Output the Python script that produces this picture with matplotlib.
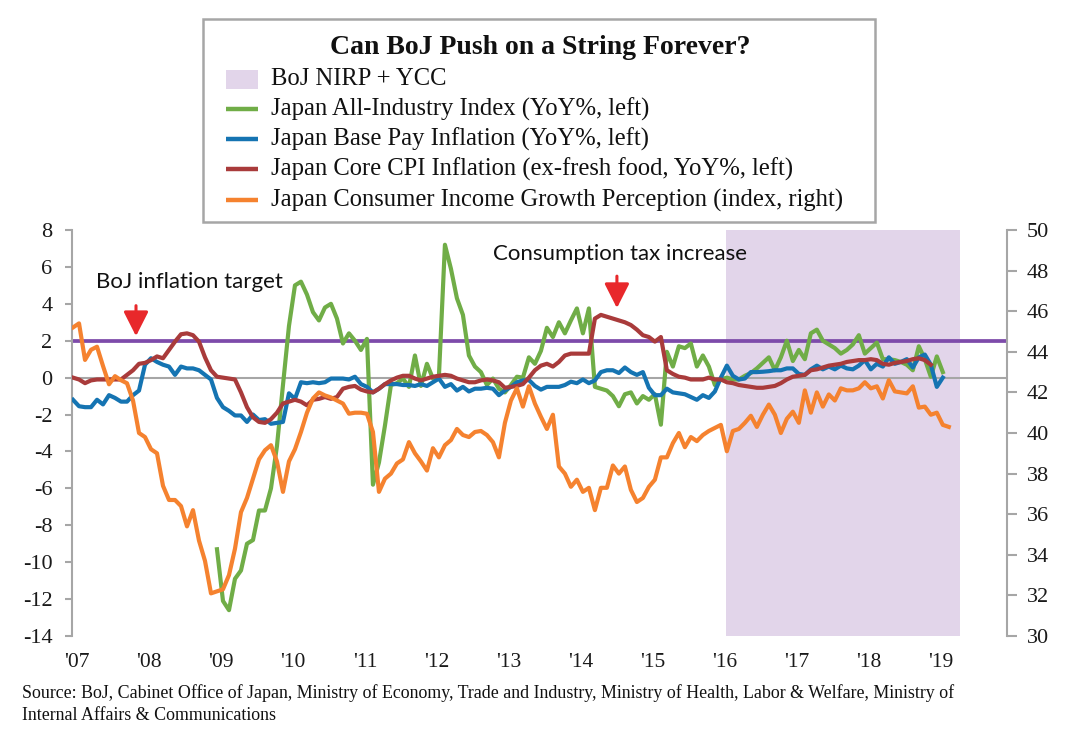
import numpy as np
import matplotlib
matplotlib.use("Agg")
import matplotlib.pyplot as plt
from matplotlib.patches import Rectangle
from matplotlib.lines import Line2D

# ---------------- data (monthly) ----------------
start_year = 2007
orange_start, green_start, blue_start, red_start = 0, 24, 0, 0  # months after Jan 2007

consumer_income = [
    45.2, 45.4, 43.6, 44.1, 44.25, 43.3, 42.4, 42.8, 42.6, 42.45, 41.6, 40.0,
    39.8, 39.2, 39.0, 37.4, 36.7, 36.7, 36.4, 35.4, 36.2, 34.7, 33.7, 32.1,
    32.2, 32.3, 33.0, 34.3, 36.1, 36.8, 37.75, 38.7, 39.15, 39.4, 38.6, 37.1,
    38.6, 39.2, 40.05, 41.0, 41.7, 42.0, 41.85, 41.75, 41.6, 41.45, 40.95, 41.0,
    41.0, 40.95, 40.05, 37.1, 37.75, 38.0, 38.5, 38.7, 39.55, 39.0, 38.6, 38.15,
    39.25, 38.8, 39.4, 39.65, 40.2, 39.9, 39.8, 40.05, 40.1, 39.9, 39.55, 38.8,
    40.5, 41.6, 42.2, 41.3, 42.3, 41.45, 40.8, 40.2, 40.9, 38.35, 38.0, 37.35,
    37.7, 37.1, 37.3, 36.2, 37.3, 37.3, 38.4, 38.0, 38.35, 37.2, 36.6, 36.8,
    37.35, 37.7, 38.8, 38.8, 39.5, 40.0, 39.3, 39.8, 39.6, 39.9, 40.1, 40.25,
    40.4, 39.1, 40.1, 40.2, 40.5, 40.85, 40.3, 40.9, 41.4, 40.9, 40.0, 40.7,
    41.05, 40.5, 42.1, 41.0, 42.0, 41.3, 41.9, 41.6, 42.2, 42.1, 42.1, 42.2,
    42.5, 42.2, 42.3, 41.7, 42.6, 42.05, 42.0, 41.95, 42.3, 41.25, 41.3, 40.9,
    41.0, 40.4, 40.3]

all_industry = [
    -9.3, -12.1, -12.6, -10.9, -10.45, -9.0, -8.8, -7.2, -7.2, -6.0, -3.7, -0.4,
    2.8, 5.0, 5.2, 4.5, 3.55, 3.1, 3.8, 4.0, 3.2, 1.85, 2.4, 2.0,
    1.5, 2.1, -5.8, -4.6, -2.6, -0.4, -0.3, -0.05, -0.5, 1.2, -0.45, 0.75,
    -0.05, 0.1, 7.2, 5.9, 4.3, 3.4, 1.2, 0.6, 0.3, -0.4, -0.05, -0.6,
    -0.8, -0.4, 0.05, 0.0, 1.1, 0.75, 1.45, 2.7, 2.2, 3.0, 2.4, 3.1,
    3.75, 2.4, 3.75, -0.5, -0.6, -0.7, -1.0, -1.55, -0.9, -0.8, -1.4, -1.0,
    -1.2, -0.9, -2.55, 1.4, 0.6, 1.7, 1.6, 1.85, 0.6, 1.2, 0.6, -0.4,
    -0.1, 0.0, -0.1, -0.1, 0.1, 0.25, 0.5, 0.8, 1.1, 0.4, 1.1, 2.0,
    0.9, 1.5, 1.0, 2.4, 2.6, 2.0, 1.8, 1.6, 1.3, 1.5, 1.8, 2.3,
    1.3, 1.6, 1.9, 1.0, 1.0, 0.95, 0.85, 0.7, 0.4, 1.7, 1.0, 0.05,
    1.15, 0.3]

base_pay = [
    -1.2, -1.55, -1.6, -1.6, -1.2, -1.45, -0.95, -1.1, -1.3, -1.3, -0.95, -0.7,
    0.7, 1.05, 0.85, 0.7, 0.6, 0.15, 0.6, 0.5, 0.5, 0.4, 0.15, -0.1,
    -1.1, -1.6, -1.8, -2.05, -2.05, -2.4, -2.0, -2.3, -2.25, -2.5, -2.45, -2.4,
    -0.85, -1.15, -0.25, -0.3, -0.25, -0.3, -0.25, -0.05, -0.05, -0.05, -0.1, 0.05,
    -0.35, -0.5, -0.8, -0.6, -0.35, -0.35, -0.35, -0.4, -0.4, -0.45, -0.35, -0.45,
    -0.25, -0.05, -0.5, -0.35, -0.7, -0.5, -0.75, -0.6, -0.6, -0.55, -0.6, -0.95,
    -0.7, -0.5, -0.25, -0.15, -0.13, -0.45, -0.65, -0.5, -0.5, -0.5, -0.4, -0.22,
    -0.3, -0.1, -0.3, -0.15, 0.3, 0.4, 0.4, 0.25, 0.55, 0.3, 0.15, 0.3,
    -0.55, -0.95, -0.95, -0.6, -0.8, -0.85, -0.9, -1.05, -1.2, -0.95, -1.1, -0.75,
    0.0, 0.65, 0.1, -0.1, -0.05, 0.3, 0.3, 0.32, 0.35, 0.4, 0.4, 0.5,
    0.5, 0.2, 0.15, 0.45, 0.65, 0.45, 0.6, 0.45, 0.65, 0.5, 0.45, 0.65,
    0.95, 0.45, 0.75, 0.6, 1.1, 0.75, 0.85, 1.0, 0.55, 1.1, 1.25, 0.7,
    -0.5, 0.0]

core_cpi = [
    0.0, -0.1, -0.3, -0.15, -0.1, -0.1, -0.1, -0.1, -0.1, 0.15, 0.4, 0.75,
    0.8, 0.95, 1.15, 1.05, 1.5, 1.95, 2.35, 2.4, 2.3, 1.95, 1.1, 0.4,
    0.05, 0.0, -0.05, -0.1, -0.8, -1.6, -2.15, -2.4, -2.45, -2.25, -1.9, -1.4,
    -1.3, -1.2, -1.3, -1.5, -1.2, -1.15, -1.05, -1.15, -1.05, -0.6, -0.5, -0.45,
    -0.65, -0.75, -0.8, -0.6, -0.35, -0.15, 0.0, 0.1, 0.1, -0.05, -0.15, -0.05,
    0.05, 0.1, 0.15, 0.1, -0.05, -0.15, -0.25, -0.25, -0.15, -0.1, -0.15, -0.25,
    -0.55, -0.5, -0.45, -0.35, 0.0, 0.4, 0.65, 0.75, 0.6, 0.85, 1.2, 1.3,
    1.3, 1.3, 1.3, 3.2, 3.4, 3.3, 3.2, 3.1, 3.0, 2.85, 2.6, 2.3,
    2.2, 1.95, 2.2, 0.4, 0.2, 0.05, 0.0, -0.1, -0.1, -0.1, 0.0, -0.1,
    -0.1, -0.25, -0.3, -0.4, -0.45, -0.5, -0.55, -0.55, -0.5, -0.45, -0.3, -0.1,
    0.05, 0.1, 0.15, 0.4, 0.45, 0.55, 0.65, 0.7, 0.75, 0.85, 0.9, 0.95,
    0.95, 1.0, 0.95, 0.75, 0.7, 0.8, 0.85, 0.9, 1.0, 1.05, 0.95, 0.7]

inflation_target = 2.0
nirp_period = (2016.075, 2019.32)   # BoJ NIRP + YCC shading (years)
year_labels = ["'07", "'08", "'09", "'10", "'11", "'12", "'13",
               "'14", "'15", "'16", "'17", "'18", "'19"]
left_ticks = list(range(-14, 9, 2))
right_ticks = list(range(30, 51, 2))

labels = ["BoJ NIRP + YCC",
          "Japan All-Industry Index (YoY%, left)",
          "Japan Base Pay Inflation (YoY%, left)",
          "Japan Core CPI Inflation (ex-fresh food, YoY%, left)",
          "Japan Consumer Income Growth Perception (index, right)"]

# ---------------- styling ----------------
C_GREEN = "#70AD47"
C_BLUE = "#1574B2"
C_RED = "#A93B3B"
C_ORANGE = "#F5822F"
C_PURPLE = "#7D4BAA"
C_SHADE = "#E2D5EA"
C_GREY = "#A6A6A6"
SERIF = ["Liberation Serif", "DejaVu Serif"]
SANS = ["Lato", "DejaVu Sans"]

W, H = 1080, 737
def fx(px): return px / W
def fy(py): return 1 - py / H

def xs(start, n):
    return start_year + (start + np.arange(n)) / 12.0

fig = plt.figure(figsize=(W / 100, H / 100), dpi=100)
ax = fig.add_axes([fx(72), fy(636), fx(1007) - fx(72), fy(230) - fy(636)])
ax2 = ax.twinx()

x0 = start_year - 0.17 / 12
x1 = start_year + 155.7 / 12
ax.set_xlim(x0, x1)
ax.set_ylim(-14, 8)
ax2.set_ylim(30, 50)

ax.axvspan(nirp_period[0], nirp_period[1], color=C_SHADE, lw=0, zorder=0)
ax.axhline(0, color=C_GREY, lw=1.5, zorder=1)
ax.axhline(inflation_target, color=C_PURPLE, lw=2.7, zorder=1.5)

lw = 3.0
l_green, = ax.plot(xs(green_start, len(all_industry)), all_industry, color=C_GREEN, lw=lw, zorder=2)
l_blue, = ax.plot(xs(blue_start, len(base_pay)), base_pay, color=C_BLUE, lw=lw, zorder=3)
l_red, = ax.plot(xs(red_start, len(core_cpi)), core_cpi, color=C_RED, lw=lw, zorder=4)
l_orange, = ax2.plot(xs(orange_start, len(consumer_income)), consumer_income, color=C_ORANGE, lw=lw, zorder=5)

# axes styling
for a in (ax, ax2):
    for s in ("top", "bottom"):
        a.spines[s].set_visible(False)
ax.spines["right"].set_visible(False)
ax2.spines["left"].set_visible(False)
ax.spines["left"].set_color(C_GREY)
ax.spines["left"].set_linewidth(1.5)
ax2.spines["right"].set_color(C_GREY)
ax2.spines["right"].set_linewidth(1.5)

ax.set_yticks(left_ticks)
ax.set_yticklabels([str(t) for t in left_ticks])
ax2.set_yticks(right_ticks)
ax2.set_yticklabels([str(t) for t in right_ticks])
ax.tick_params(axis="y", length=5, width=1.5, color=C_GREY, pad=9,
               labelsize=16, labelcolor="#1a1a1a")
ax2.tick_params(axis="y", length=7, width=1.5, color=C_GREY, pad=7,
                labelsize=16, labelcolor="#1a1a1a")
for lab in ax.get_yticklabels() + ax2.get_yticklabels():
    lab.set_fontfamily(SERIF)

xticks = [start_year + i + 0.7 / 12 for i in range(len(year_labels))]
ax.set_xticks(xticks)
ax.set_xticklabels(year_labels, fontfamily=SERIF, fontsize=15.5, color="#1a1a1a")
ax.tick_params(axis="x", length=0, pad=12)

# annotations
arrow = dict(arrowstyle="-|>,head_length=0.75,head_width=0.38",
             color="#E8282B", lw=2.2, mutation_scale=20, shrinkA=0, shrinkB=0)
ax.text(start_year + 3.83 / 12, 5.18, "BoJ inflation target", fontfamily=SANS,
        fontsize=16, va="center", ha="left", color="#111111")
ax.annotate("", xy=(start_year + 10.5 / 12, 2.25), xytext=(start_year + 10.5 / 12, 3.9),
            arrowprops=arrow)
ax.text(start_year + 70 / 12, 6.69, "Consumption tax increase", fontfamily=SANS,
        fontsize=16, va="center", ha="left", color="#111111")
ax.annotate("", xy=(start_year + 90.67 / 12, 3.77), xytext=(start_year + 90.67 / 12, 5.5),
            arrowprops=arrow)

# legend box with title (drawn in figure coordinates)
box = Rectangle((fx(203), fy(222)), fx(875) - fx(203), fy(19) - fy(222),
                transform=fig.transFigure, facecolor="white", edgecolor=C_GREY, lw=1.8)
fig.add_artist(box)
fig.text(fx(540), fy(48), "Can BoJ Push on a String Forever?", fontfamily=SERIF,
         fontweight="bold", fontsize=20, ha="center", va="center", color="#111111")
row_y = [79, 109, 139, 169, 200]
fig.add_artist(Rectangle((fx(226), fy(89)), fx(258) - fx(226), fy(70) - fy(89),
                         transform=fig.transFigure, facecolor=C_SHADE, edgecolor="none"))
for col, yy in zip([C_GREEN, C_BLUE, C_RED, C_ORANGE], row_y[1:]):
    fig.add_artist(Line2D([fx(226), fx(258)], [fy(yy), fy(yy)], transform=fig.transFigure,
                          color=col, lw=3.2, solid_capstyle="butt"))
for lab, yy in zip(labels, row_y):
    fig.text(fx(271), fy(yy), lab, fontfamily=SERIF, fontsize=17.7, ha="left",
             va="center", color="#111111")

# source
fig.text(fx(22), fy(693), "Source: BoJ, Cabinet Office of Japan, Ministry of Economy, Trade and Industry, "
         "Ministry of Health, Labor & Welfare, Ministry of", fontfamily=SERIF, fontsize=12.9,
         ha="left", va="center", color="#111111")
fig.text(fx(22), fy(715), "Internal Affairs & Communications", fontfamily=SERIF, fontsize=12.9,
         ha="left", va="center", color="#111111")

fig.savefig("out.png", dpi=100, facecolor="white")
